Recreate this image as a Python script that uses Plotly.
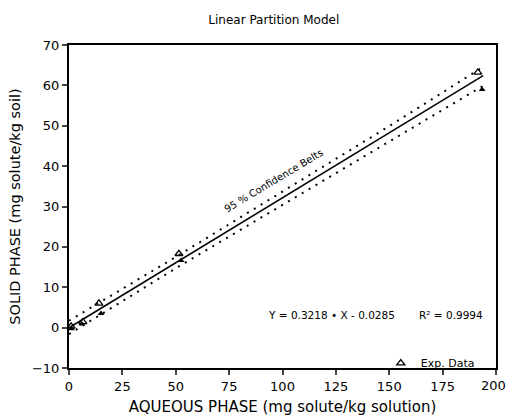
import plotly.graph_objects as go

# Experimental data (open triangles)
exp_x = [1.0, 6.5, 14.0, 51.5, 191.5]
exp_y = [0.3, 1.4, 6.0, 18.3, 63.2]

# Second set (filled markers)
fill_x = [1.2, 6.0, 15.0, 52.5, 193.5]
fill_y = [-0.3, 0.9, 3.5, 16.6, 59.0]

# Fitted line
fit_x = [0.0, 194.0]
fit_y = [-0.03, 62.4]

# 95 % confidence belts
belt_x = [0.0, 50.0, 100.0, 150.0, 194.0]
upper_y = [1.7, 17.5, 33.7, 49.9, 64.6]
lower_y = [-1.6, 14.7, 30.4, 46.2, 59.9]

x_ticks = [0, 25, 50, 75, 100, 125, 150, 175]
y_ticks = [-10, 0, 10, 20, 30, 40, 50, 60, 70]
x_last_tick = 200

FONT = "DejaVu Sans, Liberation Sans, sans-serif"

fig = go.Figure()
fig.add_trace(go.Scatter(x=belt_x, y=upper_y, mode="lines",
                         line=dict(color="black", width=2, dash="2px,6px"),
                         showlegend=False, hoverinfo="skip"))
fig.add_trace(go.Scatter(x=belt_x, y=lower_y, mode="lines",
                         line=dict(color="black", width=2, dash="2px,6px"),
                         showlegend=False, hoverinfo="skip"))
fig.add_trace(go.Scatter(x=fit_x, y=fit_y, mode="lines",
                         line=dict(color="black", width=1.5),
                         showlegend=False))
fig.add_trace(go.Scatter(x=fill_x, y=fill_y, mode="markers",
                         marker=dict(symbol="triangle-up", size=6, color="black"),
                         showlegend=False, cliponaxis=False))
fig.add_trace(go.Scatter(x=exp_x, y=exp_y, mode="markers", name="Exp. Data",
                         marker=dict(symbol="triangle-up-open", size=7, color="black",
                                     line=dict(width=1.3)),
                         cliponaxis=False))

fig.update_layout(
    width=507, height=416,
    margin=dict(l=69, r=11, t=45, b=48),
    paper_bgcolor="white", plot_bgcolor="white",
    font=dict(family=FONT, color="black"),
    title=dict(text="Linear Partition Model", x=0.54, xanchor="center",
               y=0.952, yanchor="middle", font=dict(size=12, family=FONT)),
    xaxis=dict(range=[0, 200], tickvals=x_ticks + [x_last_tick],
               ticktext=[str(v) for v in x_ticks] + [""],
               ticks="outside", ticklen=5,
               tickwidth=1.5, showline=True, linewidth=2, linecolor="black",
               mirror=True, showgrid=False, zeroline=False, automargin=False,
               tickfont=dict(size=13),
               title=dict(text="AQUEOUS PHASE (mg solute/kg solution)",
                          font=dict(size=15), standoff=14)),
    yaxis=dict(range=[-10, 70], tickvals=y_ticks, ticks="outside", ticklen=5,
               tickwidth=1.5, showline=True, linewidth=2, linecolor="black",
               mirror=True, showgrid=False, zeroline=False, automargin=False,
               tickfont=dict(size=13),
               title=dict(text="SOLID PHASE (mg solute/kg soil)",
                          font=dict(size=14.5), standoff=8)),
    legend=dict(x=0.962, y=-0.03, xanchor="right", yanchor="bottom",
                bgcolor="rgba(0,0,0,0)", font=dict(size=11), itemwidth=30),
    annotations=[
        dict(x=x_last_tick, y=0, xref="x", yref="paper", yshift=-8, xshift=-3,
             text=str(x_last_tick), showarrow=False, xanchor="center",
             yanchor="top", font=dict(size=13)),
        dict(x=96, y=36.5, xref="x", yref="y", text="95 % Confidence Belts",
             showarrow=False, textangle=-31, font=dict(size=10)),
        dict(x=123, y=3.2, xref="x", yref="y", text="Y = 0.3218 • X - 0.0285",
             showarrow=False, font=dict(size=10.5)),
        dict(x=179, y=3.2, xref="x", yref="y", text="R² = 0.9994",
             showarrow=False, font=dict(size=10.5)),
    ],
)

fig.write_html("out.html")
